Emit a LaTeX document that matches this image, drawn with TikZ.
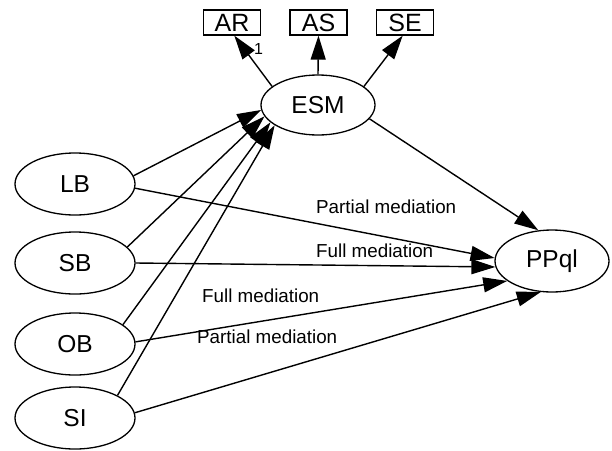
\documentclass[tikz,border=0pt]{standalone}
\usepackage{fontspec}
\setmainfont{Liberation Sans}
\usetikzlibrary{arrows.meta,shapes.geometric}
\begin{document}
\begin{tikzpicture}[x=1pt,y=-1pt,
  latent/.style={ellipse,draw,line width=1.3pt,minimum width=120pt,minimum height=62pt,
    inner sep=0pt,font=\fontsize{24.5}{27}\selectfont},
  indicator/.style={rectangle,draw,line width=1.3pt,minimum width=57pt,minimum height=25pt,
    inner sep=0pt,font=\fontsize{25}{27}\selectfont},
  effect/.style={line width=1.4pt,-{Triangle[length=24pt,width=15pt]}},
  pathlabel/.style={anchor=base west,inner sep=0pt,font=\fontsize{18.8}{20}\selectfont}]
\useasboundingbox (0,0) rectangle (612,450);

% observed indicators of ESM
\node[indicator] (AR) at (232,22.5) {AR};
\node[indicator] (AS) at (318.5,22.5) {AS};
\node[indicator] (SE) at (405,22.5) {SE};

% latent constructs
\node[latent,minimum width=114pt,minimum height=60pt] (ESM) at (318,105) {ESM};
\node[latent] (LB) at (75,184) {LB};
\node[latent] (SB) at (75,263) {SB};
\node[latent] (OB) at (75,344) {OB};
\node[latent] (SI) at (75,418) {SI};
\node[latent,minimum width=114pt] (PPql) at (552,261) {PPql};

% measurement paths
\draw[effect] (ESM.158) -- (AR.-80);
\draw[effect] (ESM.north) -- (AS.south);
\draw[effect] (ESM.22) -- (SE.-100);
\node[anchor=base west,inner sep=0pt,font=\fontsize{16}{18}\selectfont] (one) at (254,54) {1};

% predictors to the mediator
\draw[effect] (LB.8) -- (ESM.185);
\draw[effect] (SB.17) -- (ESM.192);
\draw[effect] (OB.22) -- (ESM.200);
\draw[effect] (SI.28) -- (ESM.205);

% predictors and mediator to the outcome
\draw[effect] (LB.-4) -- (PPql.177);
\draw[effect] (SB.east) -- (PPql.186);
\draw[effect] (OB.2) -- (PPql.204);
\draw[effect] (SI.5) -- (PPql.250);
\draw[effect] (ESM.-15) -- (PPql.114);

% mediation labels
\node[pathlabel] (lbl1) at (316,213) {Partial mediation};
\node[pathlabel] (lbl2) at (316,257) {Full mediation};
\node[pathlabel] (lbl3) at (202,302) {Full mediation};
\node[pathlabel] (lbl4) at (197,343) {Partial mediation};
\end{tikzpicture}
\end{document}
